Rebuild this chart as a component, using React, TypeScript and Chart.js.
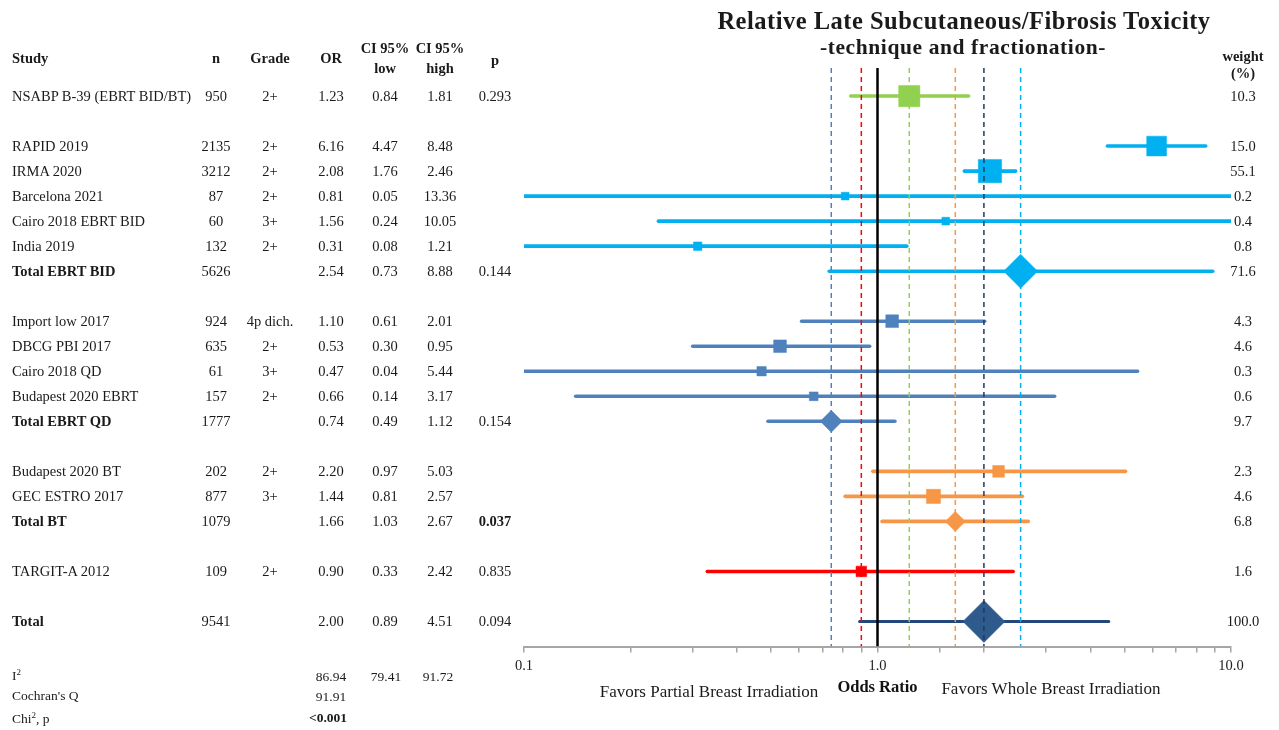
import React, { useEffect, useRef, useState } from 'react';
import { Chart, registerables } from 'chart.js';

Chart.register(...registerables);

// ---- Study data ----
const studyNames = [
  'NSABP B-39 (EBRT BID/BT)',
  'RAPID 2019',
  'IRMA 2020',
  'Barcelona 2021',
  'Cairo 2018 EBRT BID',
  'India 2019',
  'Total EBRT BID',
  'Import low 2017',
  'DBCG PBI 2017',
  'Cairo 2018 QD',
  'Budapest 2020 EBRT',
  'Total EBRT QD',
  'Budapest 2020 BT',
  'GEC ESTRO 2017',
  'Total BT',
  'TARGIT-A 2012',
  'Total',
];
const groups = ['bidbt', 'bid', 'bid', 'bid', 'bid', 'bid', 'bid', 'qd', 'qd', 'qd', 'qd', 'qd', 'bt', 'bt', 'bt', 'iort', 'all'];
const isTotal = [false, false, false, false, false, false, true, false, false, false, false, true, false, false, true, false, true];
const sampleSizes = [950, 2135, 3212, 87, 60, 132, 5626, 924, 635, 61, 157, 1777, 202, 877, 1079, 109, 9541];
const grades = ['2+', '2+', '2+', '2+', '3+', '2+', '', '4p dich.', '2+', '3+', '2+', '', '2+', '3+', '', '2+', ''];
const oddsRatios = [1.23, 6.16, 2.08, 0.81, 1.56, 0.31, 2.54, 1.10, 0.53, 0.47, 0.66, 0.74, 2.20, 1.44, 1.66, 0.90, 2.00];
const ciLow = [0.84, 4.47, 1.76, 0.05, 0.24, 0.08, 0.73, 0.61, 0.30, 0.04, 0.14, 0.49, 0.97, 0.81, 1.03, 0.33, 0.89];
const ciHigh = [1.81, 8.48, 2.46, 13.36, 10.05, 1.21, 8.88, 2.01, 0.95, 5.44, 3.17, 1.12, 5.03, 2.57, 2.67, 2.42, 4.51];
const pValues = [0.293, null, null, null, null, null, 0.144, null, null, null, null, 0.154, null, null, 0.037, 0.835, 0.094];
const weights = [10.3, 15.0, 55.1, 0.2, 0.4, 0.8, 71.6, 4.3, 4.6, 0.3, 0.6, 9.7, 2.3, 4.6, 6.8, 1.6, 100.0];

// Heterogeneity statistics
const iSquared = ['86.94', '79.41', '91.72'];
const cochranQ = '91.91';
const chiP = '<0.001';

// Axis ticks with labels
const labelledTicks = [0.1, 1, 10];

// ---- Styles ----
const FONT = "'Liberation Serif', 'DejaVu Serif', serif";
const groupColor: Record<string, string> = {
  bidbt: '#92D050',
  bid: '#00B0F0',
  qd: '#4F81BD',
  bt: '#F79646',
  iort: '#FF0000',
  all: '#2E5A8C',
};
const groupLineColor: Record<string, string> = {
  bidbt: '#92D050',
  bid: '#00B0F0',
  qd: '#4F81BD',
  bt: '#F79646',
  iort: '#FF0000',
  all: '#23477A',
};
const groupDashColor: Record<string, string> = {
  bidbt: '#92D050',
  bid: '#00B0F0',
  qd: '#4F81BD',
  bt: '#F79646',
  iort: '#FF0000',
  all: '#1F3864',
};
const markerRadius = [15, 14, 16.5, 5.5, 5.5, 6, 17, 9, 9, 6.6, 6.2, 11, 8.3, 10, 10, 7.5, 21];
const colX = { study: 12, n: 216, grade: 270, or: 331, lo: 385, hi: 440, p: 495, weight: 1243 };

// Row index of every study: groups are separated by an empty row
const rowIndex: number[] = [];
{
  let r = 0;
  groups.forEach((g, i) => {
    if (i > 0 && g !== groups[i - 1]) r += 1;
    rowIndex.push(r);
    r += 1;
  });
}
const lastRow = rowIndex[rowIndex.length - 1];
const yMin = -1.12;
const yMax = lastRow + 1;

// Pooled estimate per group (last row of each group)
const groupKeys = Array.from(new Set(groups));
const pooled = groupKeys.map((g) => {
  const idx = groups.lastIndexOf(g);
  return { g, or: oddsRatios[idx] };
});

type CellProps = {
  x: number;
  y: number;
  align?: 'left' | 'center' | 'right';
  bold?: boolean;
  size?: number;
  spacing?: number;
  children: React.ReactNode;
};

function Cell({ x, y, align = 'center', bold = false, size = 14.5, spacing = 0, children }: CellProps) {
  const tx = align === 'center' ? '-50%' : align === 'right' ? '-100%' : '0';
  return (
    <div
      style={{
        position: 'absolute',
        left: x,
        top: y,
        transform: `translate(${tx}, -50%)`,
        whiteSpace: 'nowrap',
        fontWeight: bold ? 700 : 400,
        fontSize: size,
        letterSpacing: spacing,
        lineHeight: 1,
        color: '#1a1a1a',
      }}
    >
      {children}
    </div>
  );
}

export default function App() {
  const canvasRef = useRef<HTMLCanvasElement>(null);
  const [rowY, setRowY] = useState<number[] | null>(null);

  useEffect(() => {
    if (!canvasRef.current) return;

    const dashSets = pooled.map((p) => ({
      data: [
        { x: p.or, y: yMin },
        { x: p.or, y: yMax },
      ],
      showLine: true,
      borderColor: groupDashColor[p.g],
      borderWidth: 1.5,
      borderDash: [5, 4],
      pointRadius: 0,
      clip: 0,
    }));

    const nullLine = {
      data: [
        { x: 1, y: yMin },
        { x: 1, y: yMax },
      ],
      showLine: true,
      borderColor: '#000000',
      borderWidth: 2.5,
      pointRadius: 0,
      clip: 0,
    };

    const markers = {
      data: oddsRatios.map((v, i) => ({ x: v, y: rowIndex[i] })),
      showLine: false,
      pointStyle: isTotal.map((t) => (t ? 'rectRot' : 'rect')),
      pointRadius: markerRadius,
      backgroundColor: groups.map((g) => groupColor[g]),
      borderColor: groups.map((g) => groupColor[g]),
      borderWidth: 0.5,
      clip: 0,
    };

    const ciSets = oddsRatios.map((_, i) => ({
      data: [
        { x: ciLow[i], y: rowIndex[i] },
        { x: ciHigh[i], y: rowIndex[i] },
      ],
      showLine: true,
      borderColor: groupLineColor[groups[i]],
      borderWidth: isTotal[i] && groups[i] === 'all' ? 3 : 3.6,
      borderCapStyle: 'round' as const,
      pointRadius: 0,
      clip: 0,
    }));

    const chart = new Chart(canvasRef.current, {
      type: 'scatter',
      data: {
        datasets: [nullLine, ...dashSets, markers, ...ciSets] as any,
      },
      options: {
        animation: false,
        responsive: false,
        devicePixelRatio: 1,
        events: [],
        layout: { padding: { left: 524, right: 48, top: 68, bottom: 30 } },
        plugins: {
          legend: { display: false },
          tooltip: { enabled: false },
        },
        scales: {
          x: {
            type: 'logarithmic',
            min: 0.1,
            max: 10,
            position: 'bottom',
            border: { display: true, color: '#A6A6A6', width: 2 },
            grid: {
              display: true,
              drawOnChartArea: false,
              drawTicks: true,
              tickLength: 6,
              color: '#A6A6A6',
              lineWidth: 1.5,
            },
            ticks: {
              autoSkip: false,
              maxRotation: 0,
              padding: 6,
              color: '#222222',
              font: { family: FONT, size: 14.5, lineHeight: 1 },
              callback: (value: any) => {
                const v = Number(value);
                const major = labelledTicks.some((t) => Math.abs(Math.log10(v) - Math.log10(t)) < 1e-6);
                return major ? v.toFixed(1) : '';
              },
            },
            title: {
              display: true,
              text: 'Odds Ratio',
              color: '#111111',
              font: { family: FONT, size: 16.5, weight: 'bold', lineHeight: 1 },
              padding: { top: 0.5, bottom: 4 },
            },
          },
          y: {
            type: 'linear',
            min: yMin,
            max: yMax,
            reverse: true,
            display: false,
          },
        },
      } as any,
    });

    const ys = rowIndex.map((r) => chart.scales.y.getPixelForValue(r));
    setRowY(ys);

    return () => chart.destroy();
  }, []);

  return (
    <div
      style={{
        position: 'absolute',
        left: 0,
        top: 0,
        width: 1279,
        height: 730,
        background: '#ffffff',
        fontFamily: FONT,
        overflow: 'hidden',
      }}
    >
      <canvas ref={canvasRef} width={1279} height={730} style={{ position: 'absolute', left: 0, top: 0 }} />

      {/* Title */}
      <Cell x={964} y={21} bold size={24.5} spacing={0.5}>Relative Late Subcutaneous/Fibrosis Toxicity</Cell>
      <Cell x={963} y={48} bold size={21.5} spacing={0.6}>-technique and fractionation-</Cell>

      {/* Table header */}
      <Cell x={colX.study} y={58} align="left" bold>Study</Cell>
      <Cell x={colX.n} y={58} bold>n</Cell>
      <Cell x={colX.grade} y={58} bold>Grade</Cell>
      <Cell x={colX.or} y={58} bold>OR</Cell>
      <Cell x={colX.lo} y={48} bold>CI 95%</Cell>
      <Cell x={colX.lo} y={68} bold>low</Cell>
      <Cell x={colX.hi} y={48} bold>CI 95%</Cell>
      <Cell x={colX.hi} y={68} bold>high</Cell>
      <Cell x={colX.p} y={60} bold>p</Cell>
      <Cell x={colX.weight} y={56} bold>weight</Cell>
      <Cell x={colX.weight} y={73} bold>(%)</Cell>

      {/* Table rows */}
      {rowY &&
        studyNames.map((name, i) => {
          const y = rowY[i];
          const p = pValues[i];
          return (
            <React.Fragment key={name}>
              <Cell x={colX.study} y={y} align="left" bold={isTotal[i]}>{name}</Cell>
              <Cell x={colX.n} y={y}>{String(sampleSizes[i])}</Cell>
              {grades[i] && <Cell x={colX.grade} y={y}>{grades[i]}</Cell>}
              <Cell x={colX.or} y={y}>{oddsRatios[i].toFixed(2)}</Cell>
              <Cell x={colX.lo} y={y}>{ciLow[i].toFixed(2)}</Cell>
              <Cell x={colX.hi} y={y}>{ciHigh[i].toFixed(2)}</Cell>
              {p !== null && (
                <Cell x={colX.p} y={y} bold={p < 0.05}>{p.toFixed(3)}</Cell>
              )}
              <Cell x={colX.weight} y={y}>{weights[i].toFixed(1)}</Cell>
            </React.Fragment>
          );
        })}

      {/* Heterogeneity */}
      <Cell x={colX.study} y={675} align="left" size={13.5}>
        I<sup style={{ fontSize: 9 }}>2</sup>
      </Cell>
      <Cell x={colX.or} y={677} size={13.5}>{iSquared[0]}</Cell>
      <Cell x={colX.lo + 1} y={677} size={13.5}>{iSquared[1]}</Cell>
      <Cell x={colX.hi - 2} y={677} size={13.5}>{iSquared[2]}</Cell>
      <Cell x={colX.study} y={696} align="left" size={13.5}>Cochran's Q</Cell>
      <Cell x={colX.or} y={697} size={13.5}>{cochranQ}</Cell>
      <Cell x={colX.study} y={718} align="left" size={13.5}>
        Chi<sup style={{ fontSize: 9 }}>2</sup>, p
      </Cell>
      <Cell x={colX.or - 3} y={718} bold size={13.5}>{chiP}</Cell>

      {/* Direction labels */}
      <Cell x={709} y={691} size={17}>Favors Partial Breast Irradiation</Cell>
      <Cell x={1051} y={688} size={17}>Favors Whole Breast Irradiation</Cell>
    </div>
  );
}
